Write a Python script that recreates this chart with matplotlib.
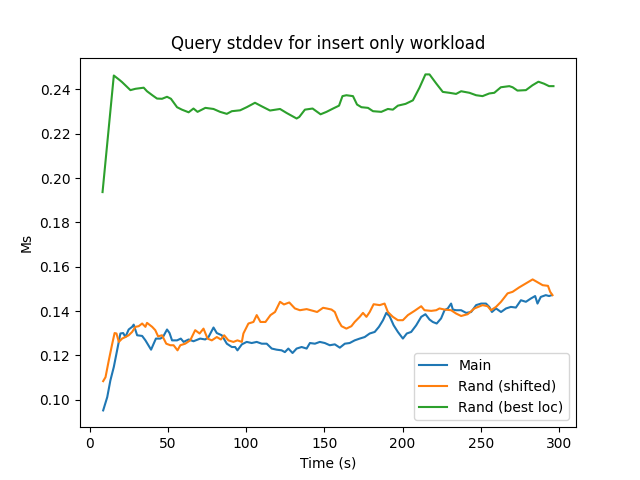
import matplotlib
matplotlib.use('Agg')
import matplotlib.pyplot as plt

# Main
main_t = [8.7, 11.3, 13.3, 15.5, 17.6, 19.7, 21.5, 22.9, 25.0, 27.2, 28.2, 30.4, 33.6, 35.7,
          39.3, 42.4, 45.2, 46.9, 49.5, 51.1, 52.7, 55.9, 58.3, 60.1, 63.3, 66.4, 70.7, 73.9,
          76.0, 79.2, 81.3, 84.5, 87.7, 90.9, 93.0, 94.5, 97.3, 100.4, 103.6, 106.8, 110.0,
          113.2, 116.4, 119.5, 122.7, 124.8, 127.0, 129.7, 132.3, 135.5, 138.7, 140.8, 144.0,
          147.1, 150.3, 153.5, 156.7, 159.9, 163.1, 166.2, 169.4, 172.6, 175.8, 179.0, 182.2,
          184.9, 187.5, 189.6, 191.7, 194.3, 197.0, 200.2, 202.7, 205.5, 208.7, 211.9, 214.6,
          217.2, 219.3, 221.8, 224.6, 226.8, 228.9, 231.0, 232.1, 234.2, 237.4, 240.6, 243.8,
          247.0, 250.2, 253.3, 255.4, 257.1, 259.7, 262.9, 266.1, 269.2, 272.4, 275.6, 278.8,
          282.0, 284.7, 286.2, 288.3, 291.5, 293.6, 295.3]
main_v = [0.0952, 0.1012, 0.1087, 0.1148, 0.1223, 0.1299, 0.1301, 0.1283, 0.1317, 0.1329, 0.1339,
          0.1291, 0.1288, 0.1268, 0.1226, 0.1276, 0.1276, 0.1283, 0.1317, 0.1301, 0.1268, 0.1268,
          0.1276, 0.1261, 0.1272, 0.1264, 0.1276, 0.1272, 0.1283, 0.1326, 0.1301, 0.1291, 0.1253,
          0.1238, 0.1238, 0.1223, 0.1250, 0.1261, 0.1256, 0.1261, 0.1253, 0.1253, 0.1231, 0.1226,
          0.1223, 0.1215, 0.1231, 0.1211, 0.1231, 0.1238, 0.1231, 0.1256, 0.1253, 0.1261, 0.1256,
          0.1246, 0.1250, 0.1235, 0.1253, 0.1256, 0.1268, 0.1276, 0.1283, 0.1299, 0.1306, 0.1329,
          0.1359, 0.1392, 0.1377, 0.1336, 0.1306, 0.1276, 0.1299, 0.1306, 0.1336, 0.1374, 0.1386,
          0.1362, 0.1351, 0.1344, 0.1367, 0.1404, 0.1412, 0.1434, 0.1407, 0.1404, 0.1404, 0.1392,
          0.1396, 0.1427, 0.1434, 0.1434, 0.1419, 0.1396, 0.1412, 0.1396, 0.1412, 0.1419, 0.1416,
          0.1449, 0.1442, 0.1457, 0.1468, 0.1434, 0.1464, 0.1472, 0.1468, 0.1472]

# Rand (shifted)
shifted_t = [8.7, 10.2, 12.3, 14.5, 16.0, 17.2, 18.7, 20.8, 22.9, 25.0, 27.2, 29.3, 31.4, 33.6,
             35.7, 36.7, 40.0, 42.0, 43.8, 46.3, 49.0, 51.6, 53.7, 56.2, 58.0, 61.1, 64.3, 67.5,
             70.3, 72.8, 75.4, 78.1, 81.3, 83.9, 86.0, 88.7, 91.9, 94.5, 97.3, 98.3, 101.5,
             104.7, 106.8, 109.2, 112.4, 115.6, 118.5, 121.7, 124.2, 127.6, 131.2, 134.4, 138.7,
             142.9, 145.4, 149.2, 151.4, 154.6, 156.7, 158.8, 161.0, 164.1, 167.3, 169.4, 172.6,
             174.7, 176.9, 179.0, 181.5, 185.4, 188.5, 190.6, 193.8, 197.0, 200.2, 203.4, 207.6,
             211.9, 214.0, 218.3, 221.5, 223.6, 226.8, 231.0, 234.2, 237.4, 241.6, 245.9, 251.1,
             254.3, 256.5, 259.7, 262.9, 267.1, 270.3, 274.5, 278.8, 283.1, 286.3, 289.5, 292.9,
             294.3, 295.8]
shifted_v = [0.1084, 0.1102, 0.1178, 0.1253, 0.1301, 0.1299, 0.1261, 0.1276, 0.1283, 0.1291,
             0.1306, 0.1329, 0.1332, 0.1344, 0.1329, 0.1347, 0.1329, 0.1314, 0.1286, 0.1291,
             0.1253, 0.1246, 0.1246, 0.1223, 0.1246, 0.1253, 0.1268, 0.1314, 0.1299, 0.1321,
             0.1276, 0.1268, 0.1283, 0.1272, 0.1291, 0.1268, 0.1261, 0.1268, 0.1261, 0.1299,
             0.1344, 0.1351, 0.1382, 0.1351, 0.1351, 0.1382, 0.1396, 0.1442, 0.1430, 0.1439,
             0.1412, 0.1404, 0.1409, 0.1401, 0.1396, 0.1415, 0.1412, 0.1407, 0.1396, 0.1359,
             0.1332, 0.1321, 0.1332, 0.1351, 0.1374, 0.1392, 0.1374, 0.1396, 0.1431, 0.1427,
             0.1434, 0.1396, 0.1374, 0.1359, 0.1359, 0.1382, 0.1401, 0.1422, 0.1404, 0.1401,
             0.1404, 0.1412, 0.1407, 0.1404, 0.1389, 0.1378, 0.1386, 0.1412, 0.1427, 0.1422,
             0.1404, 0.1419, 0.1442, 0.1480, 0.1487, 0.1507, 0.1525, 0.1543, 0.1530, 0.1517,
             0.1514, 0.1487, 0.1472]

# Rand (best loc)
best_t = [8.3, 15.5, 19.3, 20.8, 26.1, 29.3, 34.6, 36.7, 40.3, 43.1, 46.3, 49.5, 52.0, 55.9,
          59.0, 63.3, 66.4, 69.0, 74.0, 79.2, 83.4, 87.7, 90.9, 96.2, 100.4, 105.7, 110.0,
          115.3, 121.7, 125.9, 132.3, 134.0, 137.6, 142.5, 147.6, 151.4, 155.6, 159.4, 161.6,
          164.1, 168.3, 170.9, 173.7, 177.9, 181.1, 186.4, 190.6, 193.8, 197.0, 201.9, 206.6,
          210.8, 214.6, 217.2, 221.5, 225.7, 229.9, 234.2, 237.4, 242.7, 247.0, 251.1, 255.4,
          258.6, 262.8, 268.2, 270.3, 273.4, 278.8, 283.0, 286.8, 290.4, 293.6, 296.4]
best_v = [0.1937, 0.2463, 0.2442, 0.2433, 0.2397, 0.2403, 0.2408, 0.2392, 0.2373, 0.2359,
          0.2358, 0.2367, 0.2358, 0.2320, 0.2309, 0.2297, 0.2314, 0.2299, 0.2317, 0.2312,
          0.2299, 0.2290, 0.2302, 0.2306, 0.2320, 0.2340, 0.2324, 0.2305, 0.2312, 0.2294,
          0.2269, 0.2276, 0.2309, 0.2314, 0.2288, 0.2299, 0.2314, 0.2327, 0.2370, 0.2374,
          0.2370, 0.2332, 0.2320, 0.2317, 0.2302, 0.2299, 0.2312, 0.2309, 0.2327, 0.2335,
          0.2351, 0.2408, 0.2468, 0.2468, 0.2427, 0.2389, 0.2385, 0.2380, 0.2392, 0.2385,
          0.2374, 0.2370, 0.2382, 0.2385, 0.2410, 0.2415, 0.2410, 0.2395, 0.2397, 0.2419,
          0.2435, 0.2426, 0.2415, 0.2415]

fig, ax = plt.subplots(figsize=(6.4, 4.8), dpi=100)
ax.plot(main_t, main_v, label='Main')
ax.plot(shifted_t, shifted_v, label='Rand (shifted)')
ax.plot(best_t, best_v, label='Rand (best loc)')
ax.set_title('Query stddev for insert only workload')
ax.set_xlabel('Time (s)')
ax.set_ylabel('Ms')
ax.legend(loc='lower right')
fig.savefig('out.png')
